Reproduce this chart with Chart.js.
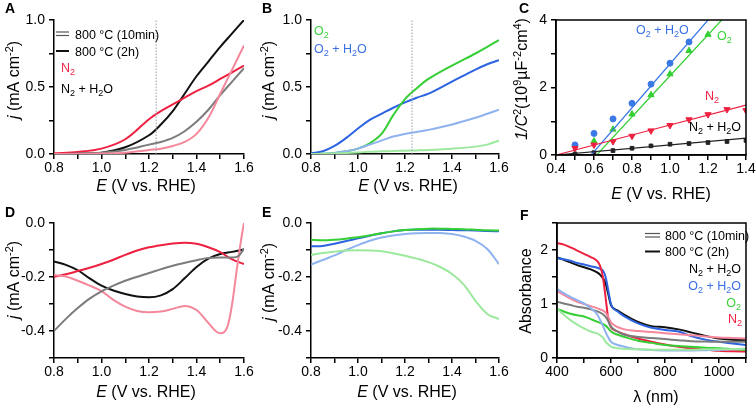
<!DOCTYPE html>
<html><head><meta charset="utf-8">
<script src="https://cdn.jsdelivr.net/npm/chart.js@4.4.1/dist/chart.umd.min.js"></script>
<style>
html,body{margin:0;padding:0;background:#fff;}
#wrap{position:relative;width:756px;height:409px;overflow:hidden;background:#fff;}
#wrap canvas{position:absolute;left:0;top:0;}
</style></head><body>
<div id="wrap">
<canvas id="cA" width="756" height="409"></canvas>
<canvas id="cB" width="756" height="409"></canvas>
<canvas id="cC" width="756" height="409"></canvas>
<canvas id="cD" width="756" height="409"></canvas>
<canvas id="cE" width="756" height="409"></canvas>
<canvas id="cF" width="756" height="409"></canvas>
</div>
<script>
// ---------------- DATA ----------------
// Panel A: LSV, N2 / N2+H2O
const A_E        = [0.8, 0.9, 1.0, 1.1, 1.2, 1.25, 1.3, 1.35, 1.4, 1.45, 1.5, 1.55, 1.6];
const A_N2_2h    = [0.005, 0.015, 0.04, 0.11, 0.26, 0.32, 0.37, 0.42, 0.47, 0.51, 0.56, 0.61, 0.66];
const A_N2W_2h   = [0.0, 0.003, 0.01, 0.05, 0.14, 0.22, 0.32, 0.45, 0.58, 0.69, 0.80, 0.90, 1.0];
const A_N2W_10m  = [0.0, 0.003, 0.01, 0.03, 0.07, 0.09, 0.12, 0.17, 0.24, 0.33, 0.44, 0.54, 0.64];
const A_N2_10m   = [0.0, 0.0, 0.003, 0.01, 0.03, 0.04, 0.06, 0.09, 0.15, 0.27, 0.45, 0.63, 0.81];
// Panel B: LSV, O2 / O2+H2O
const B_E        = [0.8, 0.85, 0.9, 0.95, 1.0, 1.05, 1.1, 1.15, 1.2, 1.25, 1.3, 1.4, 1.5, 1.55, 1.6];
const B_O2_2h    = [0.0, 0.002, 0.008, 0.02, 0.04, 0.08, 0.15, 0.29, 0.41, 0.49, 0.56, 0.66, 0.75, 0.80, 0.85];
const B_O2W_2h   = [0.005, 0.02, 0.06, 0.12, 0.19, 0.255, 0.30, 0.345, 0.385, 0.42, 0.45, 0.54, 0.63, 0.67, 0.70];
const B_O2W_10m  = [0.0, 0.002, 0.008, 0.02, 0.04, 0.07, 0.10, 0.13, 0.15, 0.165, 0.18, 0.22, 0.27, 0.30, 0.33];
const B_O2_10m   = [0.0, 0.0, 0.003, 0.008, 0.012, 0.016, 0.02, 0.022, 0.025, 0.027, 0.03, 0.04, 0.055, 0.07, 0.10];
const REF_E      = [1.23, 1.23];
const REF_J      = [0, 1];
// Panel C: Mott-Schottky
const C_E        = [0.5, 0.6, 0.7, 0.8, 0.9, 1.0, 1.1, 1.2, 1.3, 1.4];
const C_O2W      = [0.30, 0.64, 1.07, 1.53, 2.10, 2.72, 3.35];
const C_O2_E     = [0.6, 0.7, 0.8, 0.9, 1.0, 1.1, 1.2];
const C_O2       = [0.41, 0.76, 1.21, 1.78, 2.40, 3.09, 3.57];
const C_N2       = [0.20, 0.30, 0.40, 0.56, 0.72, 0.88, 1.05, 1.20, 1.35, 1.32];
const C_N2W      = [0.03, 0.07, 0.13, 0.20, 0.27, 0.32, 0.34, 0.37, 0.40, 0.43];
const C_FIT_O2W_E = [0.585, 1.2],  C_FIT_O2W = [0, 4];
const C_FIT_O2_E  = [0.614, 1.272], C_FIT_O2 = [0, 4];
const C_FIT_N2_E  = [0.4, 1.4],    C_FIT_N2 = [0, 1.48];
const C_FIT_N2W_E = [0.4, 1.4],    C_FIT_N2W = [0, 0.5];
// Panel D: cathodic, N2 / N2+H2O
const D_E        = [0.8, 0.85, 0.9, 0.95, 1.0, 1.05, 1.1, 1.15, 1.2, 1.25, 1.3, 1.35, 1.4, 1.45, 1.5, 1.55, 1.6];
const D_N2_2h    = [-0.199, -0.19, -0.178, -0.166, -0.152, -0.136, -0.118, -0.102, -0.09, -0.082, -0.076, -0.073, -0.077, -0.09, -0.108, -0.135, -0.152];
const D_N2W_2h   = [-0.142, -0.155, -0.175, -0.205, -0.232, -0.25, -0.263, -0.272, -0.275, -0.268, -0.245, -0.205, -0.163, -0.132, -0.115, -0.107, -0.098];
const D_N2W_10m_E = [0.8, 0.85, 0.9, 0.95, 1.0, 1.05, 1.1, 1.2, 1.3, 1.4, 1.45, 1.5, 1.55, 1.58, 1.6];
const D_N2W_10m  = [-0.40, -0.355, -0.315, -0.28, -0.253, -0.232, -0.214, -0.185, -0.158, -0.138, -0.13, -0.128, -0.128, -0.12, -0.095];
const D_N2_10m_E = [0.8, 0.85, 0.9, 0.95, 1.0, 1.05, 1.1, 1.15, 1.2, 1.25, 1.3, 1.35, 1.4, 1.45, 1.48, 1.5, 1.53, 1.55, 1.57, 1.59, 1.6];
const D_N2_10m   = [-0.193, -0.198, -0.214, -0.232, -0.252, -0.285, -0.31, -0.326, -0.331, -0.328, -0.318, -0.307, -0.322, -0.37, -0.4, -0.408, -0.385, -0.30, -0.17, -0.05, 0.0];
// Panel E: cathodic, O2 / O2+H2O
const E_E        = [0.8, 0.85, 0.9, 0.95, 1.0, 1.05, 1.1, 1.15, 1.2, 1.25, 1.3, 1.35, 1.4, 1.45, 1.5, 1.55, 1.6];
const E_O2_2h    = [-0.062, -0.064, -0.062, -0.058, -0.053, -0.046, -0.038, -0.031, -0.026, -0.023, -0.021, -0.021, -0.022, -0.023, -0.025, -0.027, -0.028];
const E_O2W_2h   = [-0.086, -0.085, -0.077, -0.067, -0.057, -0.047, -0.038, -0.031, -0.026, -0.025, -0.025, -0.025, -0.026, -0.027, -0.028, -0.03, -0.031];
const E_O2W_10m  = [-0.154, -0.137, -0.12, -0.1, -0.082, -0.066, -0.054, -0.046, -0.041, -0.038, -0.037, -0.037, -0.041, -0.05, -0.066, -0.096, -0.152];
const E_O2_10m   = [-0.118, -0.111, -0.106, -0.102, -0.101, -0.102, -0.105, -0.112, -0.121, -0.132, -0.145, -0.163, -0.189, -0.228, -0.288, -0.337, -0.356];
// Panel F: absorbance
const F_L        = [400, 425, 450, 475, 500, 525, 550, 560, 570, 580, 590, 600, 625, 650, 700, 750, 800, 850, 900, 950, 1000, 1050, 1100];
const F_N2_2h    = [2.13, 2.10, 2.05, 1.99, 1.93, 1.87, 1.79, 1.70, 1.50, 1.12, 0.72, 0.57, 0.49, 0.44, 0.36, 0.30, 0.25, 0.21, 0.18, 0.155, 0.135, 0.125, 0.12];
const F_O2W_2h   = [1.85, 1.83, 1.80, 1.76, 1.73, 1.70, 1.67, 1.65, 1.62, 1.50, 1.25, 1.0, 0.86, 0.77, 0.64, 0.56, 0.52, 0.49, 0.40, 0.34, 0.30, 0.27, 0.24];
const F_N2W_2h   = [1.86, 1.82, 1.77, 1.72, 1.68, 1.64, 1.58, 1.54, 1.48, 1.38, 1.18, 0.98, 0.88, 0.80, 0.67, 0.59, 0.57, 0.53, 0.47, 0.41, 0.36, 0.34, 0.33];
const F_O2_2h    = [0.91, 0.86, 0.82, 0.79, 0.77, 0.72, 0.67, 0.65, 0.63, 0.60, 0.55, 0.49, 0.43, 0.39, 0.32, 0.28, 0.24, 0.22, 0.21, 0.19, 0.18, 0.165, 0.15];
const F_O2W_10m  = [1.28, 1.20, 1.13, 1.07, 1.01, 0.92, 0.80, 0.70, 0.60, 0.48, 0.38, 0.30, 0.24, 0.21, 0.16, 0.15, 0.14, 0.14, 0.14, 0.145, 0.15, 0.16, 0.17];
const F_O2_10m   = [0.91, 0.80, 0.70, 0.62, 0.55, 0.49, 0.45, 0.42, 0.38, 0.30, 0.25, 0.21, 0.18, 0.17, 0.16, 0.155, 0.155, 0.155, 0.155, 0.16, 0.16, 0.165, 0.17];
const F_N2_10m   = [1.24, 1.17, 1.10, 1.04, 1.00, 0.96, 0.92, 0.90, 0.88, 0.84, 0.76, 0.66, 0.57, 0.53, 0.50, 0.48, 0.46, 0.44, 0.42, 0.40, 0.38, 0.37, 0.36];
const F_N2W_10m  = [1.04, 1.01, 0.98, 0.95, 0.93, 0.90, 0.86, 0.84, 0.81, 0.76, 0.68, 0.58, 0.49, 0.43, 0.39, 0.37, 0.35, 0.33, 0.31, 0.305, 0.30, 0.30, 0.30];

// ---------------- STYLE ----------------
const FONT = '"Liberation Sans", Arial, Helvetica, sans-serif';
const RED = '#ee2040', PINK = '#f4879b', BLACK = '#111111', GRAY = '#7c7c7c';
const GREEN = '#35cf35', LGREEN = '#9ce89c', BLUE = '#2b63e0', LBLUE = '#8fb2f0';
const TXT_RED = '#ee2548', TXT_GREEN = '#3bd23b', TXT_BLUE = '#3a70e4';

Chart.defaults.font.family = FONT;
Chart.defaults.color = '#000';

function pts(xs, ys){ return ys.map((y,i)=>({x:xs[i], y:y})); }
function curve(xs, ys, color, w, mono){
  return {data: pts(xs, ys), borderColor: color, backgroundColor: color, borderWidth: w||2,
          showLine: true, pointRadius: 0, tension: mono ? 0.4 : 0.35,
          cubicInterpolationMode: mono ? 'monotone' : 'default', fill: false};
}
function refLine(){
  return {data: pts(REF_E, REF_J), borderColor: '#94a0ad', borderWidth: 1, borderDash: [1.5, 1.5],
          showLine: true, pointRadius: 0, fill: false};
}
function marks(xs, ys, color, style, r, rot){
  return {data: pts(xs, ys), borderColor: color, backgroundColor: color, showLine: false,
          pointStyle: style, pointRadius: r, pointRotation: rot||0, borderWidth: 1};
}

// rich text: _{sub} ^{sup} <i>italic</i>
function parseRich(s){
  const segs=[]; let i=0, it=false, buf='';
  const push=(t,m)=>{ if(t) segs.push({t:t, m:m, it:it}); };
  while(i<s.length){
    if(s.startsWith('<i>',i)){ push(buf,'n'); buf=''; it=true; i+=3; continue; }
    if(s.startsWith('</i>',i)){ push(buf,'n'); buf=''; it=false; i+=4; continue; }
    if((s[i]==='_'||s[i]==='^') && s[i+1]==='{'){
      push(buf,'n'); buf=''; const j=s.indexOf('}',i);
      push(s.slice(i+2,j), s[i]==='_'?'sub':'sup'); i=j+1; continue;
    }
    buf+=s[i]; i++;
  }
  push(buf,'n'); return segs;
}
function drawRich(ctx, t){
  const size=t.size||12, segs=parseRich(t.text);
  const fnt = sg => (sg.it?'italic ':'') + (t.bold?'bold ':'') + (sg.m==='n'?size:Math.round(size*0.7)) + 'px ' + FONT;
  ctx.save();
  ctx.translate(t.x, t.y);
  if(t.rot) ctx.rotate(t.rot);
  let w=0;
  segs.forEach(sg=>{ ctx.font=fnt(sg); sg.w=ctx.measureText(sg.t).width; w+=sg.w; });
  let cx = t.align==='center' ? -w/2 : (t.align==='right' ? -w : 0);
  ctx.textBaseline='alphabetic'; ctx.textAlign='left'; ctx.fillStyle=t.color||'#000';
  const base = size*0.36;
  segs.forEach(sg=>{
    ctx.font=fnt(sg);
    const dy = sg.m==='sub' ? size*0.28 : (sg.m==='sup' ? -size*0.38 : 0);
    ctx.fillText(sg.t, cx, base+dy); cx+=sg.w;
  });
  ctx.restore();
}

const annoPlugin = {
  id: 'anno',
  afterDraw(chart, args, opts){
    const ctx = chart.ctx, a = chart.chartArea;
    if(opts.frame){
      ctx.save(); ctx.strokeStyle='#000'; ctx.lineWidth=1.5;
      ctx.strokeRect(a.left, a.top, a.right-a.left, a.bottom-a.top); ctx.restore();
    }
    (opts.glyphs||[]).forEach(g=>{
      ctx.save(); ctx.strokeStyle=g.color; ctx.lineWidth=g.w;
      ctx.beginPath(); ctx.moveTo(g.x1, g.y); ctx.lineTo(g.x2, g.y); ctx.stroke(); ctx.restore();
    });
    (opts.texts||[]).forEach(t=>drawRich(ctx, t));
  }
};
Chart.register(annoPlugin);

const W=756, H=409, YW=40, XH=40;
function makeChart(id, p){
  const tickCb = (step, every, fmt) => function(v){
    const k = Math.round(v/step);
    if (k % every !== 0) return '';
    return fmt(Math.abs(v)<1e-9 ? 0 : v);
  };
  const axisCommon = {
    grid: {display: true, drawOnChartArea: false, drawTicks: true, tickLength: 5, color: '#000', lineWidth: 1.5},
    border: {display: true, color: '#000', width: 1.5}
  };
  return new Chart(document.getElementById(id), {
    type: 'scatter',
    data: {datasets: p.datasets},
    options: {
      responsive: false, animation: false, devicePixelRatio: 1,
      layout: {padding: {left: p.area.l - YW, top: p.area.t, right: W - p.area.r, bottom: H - p.area.b - XH}},
      plugins: {legend: {display: false}, tooltip: {enabled: false}, anno: p.anno},
      scales: {
        x: Object.assign({}, axisCommon, {
          type: 'linear', min: p.x.min, max: p.x.max,
          afterFit(s){ s.height = XH; s.paddingLeft = 0; s.paddingRight = 0; },
          ticks: {stepSize: p.x.step, autoSkip: false, maxRotation: 0, padding: 1, color: '#000',
                  font: {size: 14, family: FONT}, callback: tickCb(p.x.step, p.x.every, p.x.fmt)}
        }),
        y: Object.assign({}, axisCommon, {
          type: 'linear', min: p.y.min, max: p.y.max,
          afterFit(s){ s.width = YW; s.paddingTop = 0; s.paddingBottom = 0; },
          ticks: {stepSize: p.y.step, autoSkip: false, padding: 4, color: '#000',
                  font: {size: 14, family: FONT}, callback: tickCb(p.y.step, p.y.every, p.y.fmt)}
        })
      }
    }
  });
}

const f1 = v => v.toFixed(1), f0 = v => v.toFixed(0);
const ROT = -Math.PI/2;
const JT = '<i>j</i> (mA cm^{-2})', ET = '<i>E</i> (V vs. RHE)';
const legend2 = (x1, x2, yA, yB, yC) => [
  {x1:x1, x2:x2, y:yA, color:'#555', w:1.2}, {x1:x1, x2:x2, y:yB, color:'#555', w:1.2},
  {x1:x1, x2:x2, y:yC, color:'#111', w:2}
];

// Panel A
makeChart('cA', {
  area: {l:54, t:20, r:244, b:154},
  x: {min:0.8, max:1.6, step:0.1, every:2, fmt:f1},
  y: {min:0, max:1, step:0.25, every:2, fmt:f1},
  datasets: [
    refLine(),
    curve(A_E, A_N2_10m, PINK), curve(A_E, A_N2W_10m, GRAY),
    curve(A_E, A_N2_2h, RED), curve(A_E, A_N2W_2h, BLACK)
  ],
  anno: {
    glyphs: legend2(56, 69, 32, 35.5, 51),
    texts: [
      {text:'A', x:5, y:8, size:14, bold:true},
      {text:JT, x:13.5, y:80, size:16, rot:ROT, align:'center'},
      {text:ET, x:146, y:185, size:16, align:'center'},
      {text:'800 °C (10min)', x:75, y:34, size:12.5},
      {text:'800 °C (2h)', x:75, y:51, size:12.5},
      {text:'N_{2}', x:61, y:67, size:12.5, color:TXT_RED},
      {text:'N_{2} + H_{2}O', x:61, y:88, size:12.5}
    ]
  }
});

// Panel B
makeChart('cB', {
  area: {l:311, t:20, r:499, b:154},
  x: {min:0.8, max:1.6, step:0.1, every:2, fmt:f1},
  y: {min:0, max:1, step:0.25, every:2, fmt:f1},
  datasets: [
    refLine(),
    curve(B_E, B_O2_10m, LGREEN), curve(B_E, B_O2W_10m, LBLUE),
    curve(B_E, B_O2_2h, GREEN), curve(B_E, B_O2W_2h, BLUE)
  ],
  anno: {
    texts: [
      {text:'B', x:262, y:8, size:14, bold:true},
      {text:JT, x:268, y:80, size:16, rot:ROT, align:'center'},
      {text:ET, x:408, y:185, size:16, align:'center'},
      {text:'O_{2}', x:314, y:30, size:12.5, color:TXT_GREEN},
      {text:'O_{2} + H_{2}O', x:314, y:48, size:12.5, color:TXT_BLUE}
    ]
  }
});

// Panel C
makeChart('cC', {
  area: {l:556, t:20, r:746, b:155},
  x: {min:0.4, max:1.4, step:0.1, every:2, fmt:f1},
  y: {min:0, max:4, step:1, every:2, fmt:f0},
  datasets: [
    curve(C_FIT_N2W_E, C_FIT_N2W, '#222', 1.2), curve(C_FIT_N2_E, C_FIT_N2, RED, 1.2),
    curve(C_FIT_O2_E, C_FIT_O2, GREEN, 1.2), curve(C_FIT_O2W_E, C_FIT_O2W, '#3a78e6', 1.2),
    marks(C_E, C_N2W, '#222', 'rect', 2.6),
    marks(C_E, C_N2, RED, 'triangle', 3.6, 180),
    marks(C_O2_E, C_O2, GREEN, 'triangle', 3.6),
    marks(C_E.slice(0, C_O2W.length), C_O2W, '#3a78e6', 'circle', 3)
  ],
  anno: {
    frame: true,
    texts: [
      {text:'C', x:519, y:8, size:14, bold:true},
      {text:'<i>1/C</i>^{2}(10^{9}µF^{-2}cm^{4})', x:521, y:79, size:16, rot:ROT, align:'center'},
      {text:ET, x:661, y:193, size:16, align:'center'},
      {text:'O_{2} + H_{2}O', x:636, y:29, size:12.5, color:TXT_BLUE},
      {text:'O_{2}', x:717, y:35, size:12.5, color:TXT_GREEN},
      {text:'N_{2}', x:705, y:95, size:12.5, color:TXT_RED},
      {text:'N_{2} + H_{2}O', x:689, y:126, size:12.5}
    ]
  }
});

// Panel D
makeChart('cD', {
  area: {l:54, t:223, r:244, b:358},
  x: {min:0.8, max:1.6, step:0.1, every:2, fmt:f1},
  y: {min:-0.5, max:0, step:0.1, every:2, fmt:f1},
  datasets: [
    curve(D_N2W_10m_E, D_N2W_10m, GRAY, 2, true), curve(D_N2_10m_E, D_N2_10m, PINK, 2, true),
    curve(D_E, D_N2_2h, RED, 2, true), curve(D_E, D_N2W_2h, BLACK, 2, true)
  ],
  anno: {
    texts: [
      {text:'D', x:5, y:212, size:14, bold:true},
      {text:JT, x:13.5, y:280, size:16, rot:ROT, align:'center'},
      {text:ET, x:146, y:391, size:16, align:'center'}
    ]
  }
});

// Panel E
makeChart('cE', {
  area: {l:311, t:223, r:499, b:358},
  x: {min:0.8, max:1.6, step:0.1, every:2, fmt:f1},
  y: {min:-0.5, max:0, step:0.1, every:2, fmt:f1},
  datasets: [
    curve(E_E, E_O2_10m, LGREEN), curve(E_E, E_O2W_10m, LBLUE),
    curve(E_E, E_O2_2h, GREEN), curve(E_E, E_O2W_2h, BLUE)
  ],
  anno: {
    texts: [
      {text:'E', x:262, y:212, size:14, bold:true},
      {text:JT, x:268, y:282, size:16, rot:ROT, align:'center'},
      {text:ET, x:407, y:391, size:16, align:'center'}
    ]
  }
});

// Panel F
makeChart('cF', {
  area: {l:557, t:223, r:746, b:358},
  x: {min:400, max:1100, step:100, every:2, fmt:f0},
  y: {min:0, max:2.5, step:0.5, every:2, fmt:f0},
  datasets: [
    curve(F_L, F_O2_10m, LGREEN, 2, true), curve(F_L, F_O2W_10m, LBLUE, 2, true),
    curve(F_L, F_N2W_10m, GRAY, 2, true), curve(F_L, F_N2_10m, PINK, 2, true),
    curve(F_L, F_O2_2h, GREEN, 2, true), curve(F_L, F_N2_2h, RED, 2, true),
    curve(F_L, F_O2W_2h, BLUE, 2, true), curve(F_L, F_N2W_2h, BLACK, 2, true)
  ],
  anno: {
    frame: true,
    glyphs: legend2(645, 660, 233.5, 237, 251.5),
    texts: [
      {text:'F', x:520, y:215, size:14, bold:true},
      {text:'Absorbance', x:525, y:291, size:16, rot:ROT, align:'center'},
      {text:'λ (nm)', x:656, y:396, size:16, align:'center'},
      {text:'800 °C (10min)', x:665, y:235, size:12.5},
      {text:'800 °C (2h)', x:665, y:251.5, size:12.5},
      {text:'N_{2} + H_{2}O', x:741, y:268, size:12.5, align:'right'},
      {text:'O_{2} + H_{2}O', x:741, y:285, size:12.5, align:'right', color:TXT_BLUE},
      {text:'O_{2}', x:741, y:302, size:12.5, align:'right', color:TXT_GREEN},
      {text:'N_{2}', x:742, y:318, size:12.5, align:'right', color:TXT_RED}
    ]
  }
});
</script>
</body></html>
